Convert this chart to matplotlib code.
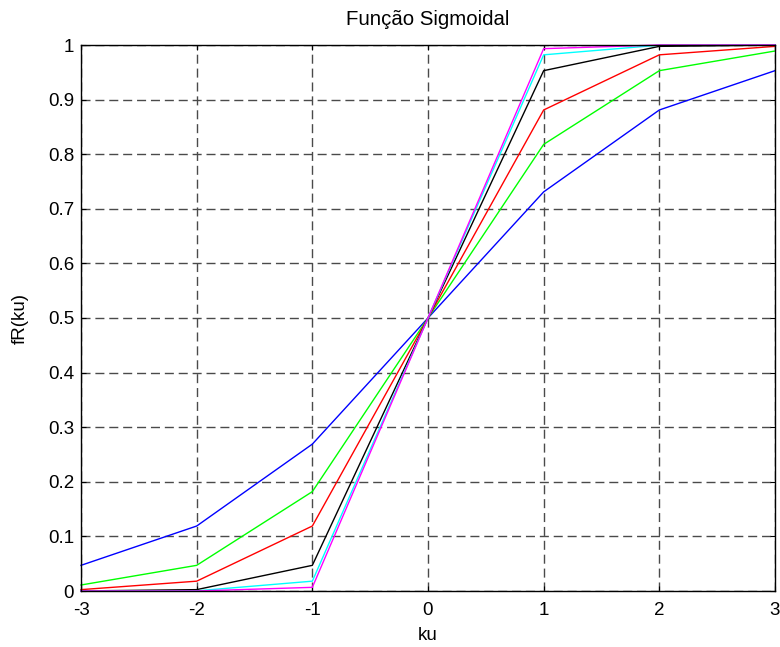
import matplotlib
matplotlib.use("Agg")
import matplotlib.pyplot as plt

plt.rcParams['font.family'] = ['Liberation Sans', 'DejaVu Sans']

ku = [-3, -2, -1, 0, 1, 2, 3]

# fR(ku) for increasing slopes
f_blue = [0.047, 0.119, 0.269, 0.5, 0.731, 0.881, 0.953]
f_green = [0.011, 0.047, 0.182, 0.5, 0.818, 0.953, 0.989]
f_red = [0.0025, 0.018, 0.119, 0.5, 0.881, 0.982, 0.9975]
f_black = [0.0001, 0.0025, 0.047, 0.5, 0.953, 0.9975, 0.9999]
f_cyan = [0.0, 0.0003, 0.018, 0.5, 0.982, 0.9997, 1.0]
f_magenta = [0.0, 0.0, 0.0067, 0.5, 0.9933, 1.0, 1.0]

series = [
    (f_blue, '#0000ff'),
    (f_green, '#00ff00'),
    (f_red, '#ff0000'),
    (f_black, '#000000'),
    (f_cyan, '#00ffff'),
    (f_magenta, '#ff00ff'),
]

xticks = [-3, -2, -1, 0, 1, 2, 3]
yticks = [0, 0.1, 0.2, 0.3, 0.4, 0.5, 0.6, 0.7, 0.8, 0.9, 1]
ytick_labels = ['0', '0.1', '0.2', '0.3', '0.4', '0.5', '0.6', '0.7', '0.8', '0.9', '1']

fig = plt.figure(figsize=(7.8, 6.47), dpi=100)
ax = fig.add_axes([81 / 780, 56 / 647, 694 / 780, 546 / 647])

for vals, col in series:
    ax.plot(ku, vals, color=col, linewidth=1.0, clip_on=False)

ax.set_xlim(-3, 3)
ax.set_ylim(0, 1)
ax.set_xticks(xticks)
ax.set_xticklabels([str(t) for t in xticks])
ax.set_yticks(yticks)
ax.set_yticklabels(ytick_labels)
ax.tick_params(direction='in', length=3.6, width=0.8, labelsize=13.5,
               top=True, right=True)
ax.tick_params(axis='x', pad=8)
ax.tick_params(axis='y', pad=5)
ax.grid(True, color='#4a4a4a', linestyle=(0, (6.5, 3.5)), linewidth=1.0)
for s in ax.spines.values():
    s.set_linewidth(1.0)

ax.set_title('Função Sigmoidal', fontsize=14.7, pad=14.5)
ax.set_xlabel('ku', fontsize=13.5, labelpad=6)
ax.set_ylabel('fR(ku)', fontsize=13.5, labelpad=14)

fig.savefig('out.png', dpi=100, facecolor='white')
